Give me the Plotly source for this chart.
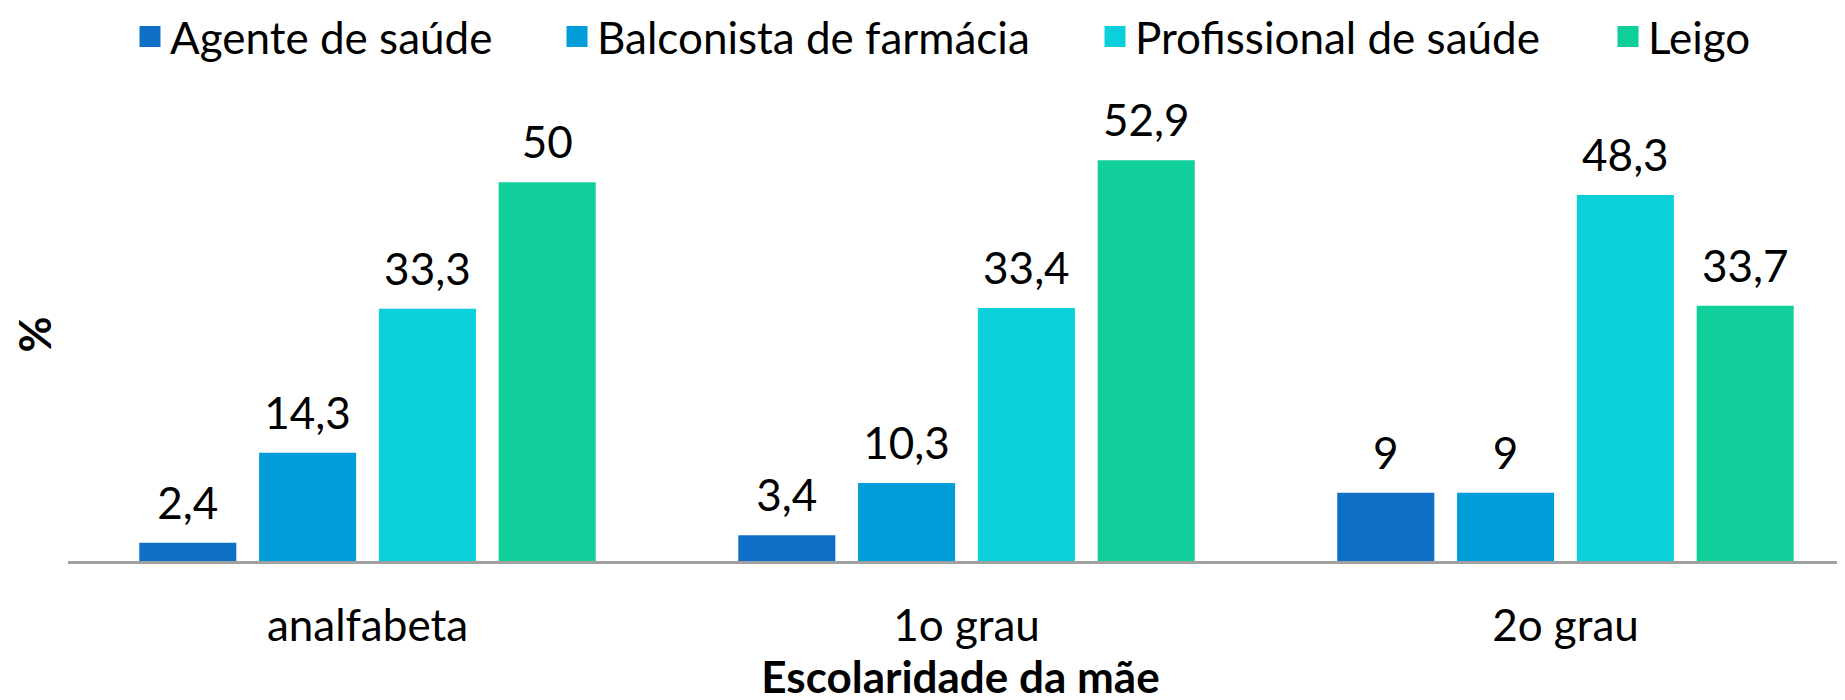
import plotly.graph_objects as go

categories = ["analfabeta", "1o grau", "2o grau"]
series_names = ["Agente de saúde", "Balconista de farmácia", "Profissional de saúde", "Leigo"]
agente = [2.4, 3.4, 9]
balconista = [14.3, 10.3, 9]
profissional = [33.3, 33.4, 48.3]
leigo = [50, 52.9, 33.7]
colors = ["#0F6FC6", "#009DD9", "#0BD0D9", "#10CF9B"]

FONT = "Lato, Carlito, Calibri, 'Open Sans', sans-serif"
FS = 44
GAP = 0.2

def fmt(v):
    return f"{v:g}".replace(".", ",")

fig = go.Figure()
legend_ids = ["legend", "legend2", "legend3", "legend4"]
all_vals = [agente, balconista, profissional, leigo]
for i, (name, vals, col, lid) in enumerate(zip(series_names, all_vals, colors, legend_ids)):
    fig.add_trace(go.Bar(
        x=categories, y=vals, name=name, marker=dict(color=col, line=dict(width=0)),
        showlegend=False, legendgroup=name, hoverinfo="x+y",
    ))
for i, (name, vals, col, lid) in enumerate(zip(series_names, all_vals, colors, legend_ids)):
    # value labels, aligned with the grouped bars
    fig.add_trace(go.Scatter(
        x=categories, y=vals, mode="markers+text", text=[fmt(v) for v in vals],
        textposition="top center", textfont=dict(family=FONT, size=FS, color="#000000"),
        marker=dict(size=19, color="rgba(0,0,0,0)"), cliponaxis=False,
        showlegend=False, legendgroup=name, hoverinfo="skip",
        alignmentgroup="labels", offsetgroup=str(i),
    ))
for i, (name, vals, col, lid) in enumerate(zip(series_names, all_vals, colors, legend_ids)):
    fig.add_trace(go.Scatter(
        x=[None], y=[None], mode="markers", name=name, legend=lid, legendgroup=name,
        marker=dict(symbol="square", size=16, color=col, line=dict(color=col, width=5)),
        alignmentgroup="legend", offsetgroup="leg",
    ))

legend_x_px = [122, 549, 1087, 1600]
common_leg = dict(orientation="h", xref="container", yref="container", xanchor="left", yanchor="middle",
                  y=1 - 29 / 700, font=dict(family=FONT, size=FS, color="#000000"),
                  bgcolor="rgba(0,0,0,0)", borderwidth=0, itemsizing="trace")
legs = {}
for lid, px in zip(legend_ids, legend_x_px):
    legs[lid] = dict(common_leg, x=px / 1845)

fig.update_layout(
    width=1845, height=700,
    margin=dict(l=60, r=0, t=100, b=147, pad=0, autoexpand=False),
    paper_bgcolor="white", plot_bgcolor="white",
    barmode="group", bargap=GAP, bargroupgap=0.19,
    scattermode="group", scattergap=GAP,
    font=dict(family=FONT, size=FS, color="#000000"),
    xaxis=dict(
        range=[-0.5, 2.48],
        showline=True, linecolor="#A0A0A0", linewidth=3, ticks="", showgrid=False,
        tickfont=dict(family=FONT, size=FS, color="#000000"), ticklabelstandoff=24,
        title=dict(text="<b>Escolaridade da mãe</b>", font=dict(family=FONT, size=FS, color="#000000"), standoff=8),
    ),
    yaxis=dict(
        range=[0, 59.8], showline=False, showgrid=False, zeroline=False, showticklabels=False, ticks="",
        title=dict(text="<b>%</b>", font=dict(family=FONT, size=FS, color="#000000"), standoff=8),
    ),
    **legs,
)

fig.write_html("out.html")
